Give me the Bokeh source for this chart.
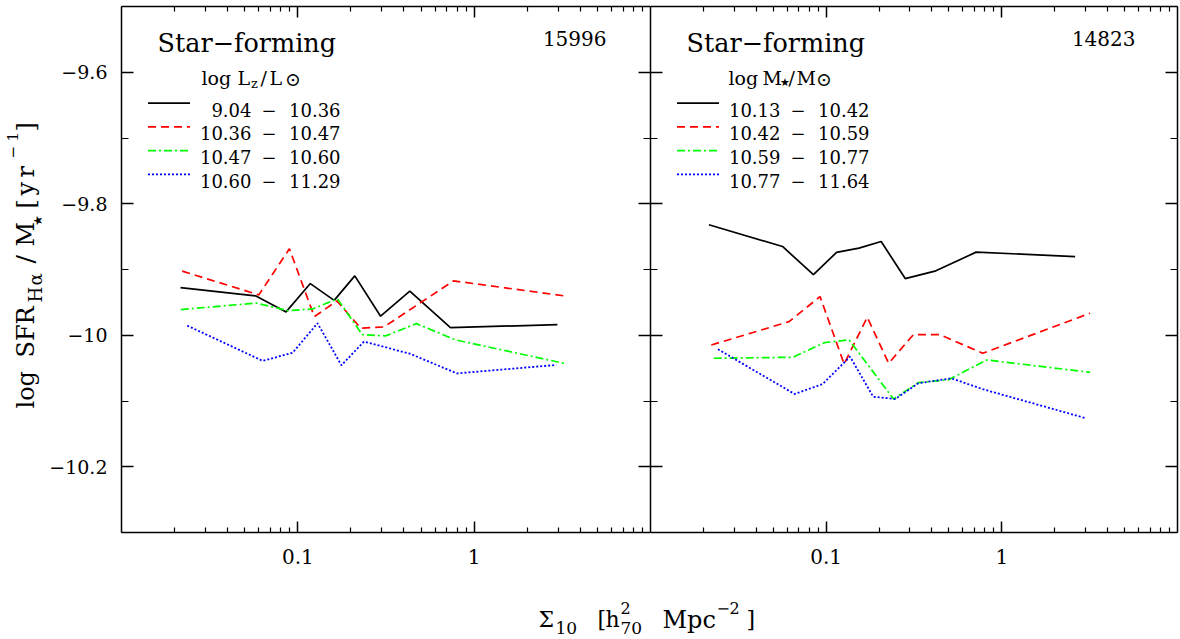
import math
from bokeh.plotting import figure
from bokeh.layouts import row, column
from bokeh.models import (Range1d, LogAxis, LinearAxis, FixedTicker, CustomJSTickFormatter,
                          Label, Arrow, LogScale)
from bokeh.embed import file_html
from bokeh.resources import INLINE

# ---------------- data ----------------
# Left panel: bins of luminosity log Lz/Lsun
L_black_x = [0.0216, 0.0575, 0.0858, 0.1177, 0.1607, 0.2104, 0.2947, 0.4315, 0.7337, 2.964]
L_black_y = [-9.9275, -9.940, -9.9645, -9.9214, -9.947, -9.9097, -9.971, -9.933, -9.9884, -9.9839]
L_red_x = [0.0221, 0.0601, 0.0896, 0.124, 0.1664, 0.2274, 0.3076, 0.764, 3.233]
L_red_y = [-9.9025, -9.9386, -9.8685, -9.9717, -9.9478, -9.9893, -9.9874, -9.9173, -9.9401]
L_green_x = [0.0217, 0.058, 0.0876, 0.1212, 0.1677, 0.232, 0.3146, 0.4708, 0.781, 3.233]
L_green_y = [-9.961, -9.951, -9.9625, -9.96, -9.9447, -9.999, -10.001, -9.9823, -10.007, -10.0427]
L_blue_x = [0.0236, 0.0633, 0.0935, 0.1293, 0.1767, 0.2372, 0.4315, 0.798, 2.925]
L_blue_y = [-9.9854, -10.039, -10.0265, -9.9817, -10.0457, -10.0097, -10.028, -10.058, -10.0452]

# Right panel: bins of stellar mass log M*/Msun
R_black_x = [0.0215, 0.0564, 0.0846, 0.1146, 0.1537, 0.2056, 0.2818, 0.4213, 0.7145, 2.613]
R_black_y = [-9.832, -9.865, -9.9077, -9.874, -9.8675, -9.8574, -9.9138, -9.902, -9.8736, -9.8803]
R_red_x = [0.0222, 0.0615, 0.0923, 0.1265, 0.1714, 0.2268, 0.3137, 0.4437, 0.7785, 3.179]
R_red_y = [-10.0148, -9.9793, -9.9412, -10.0437, -9.9726, -10.0427, -9.999, -9.999, -10.0274, -9.9665]
R_green_x = [0.0229, 0.0647, 0.0976, 0.135, 0.2419, 0.3347, 0.4942, 0.8201, 3.179]
R_green_y = [-10.035, -10.0335, -10.0113, -10.007, -10.097, -10.072, -10.068, -10.0376, -10.0564]
R_blue_x = [0.0242, 0.0661, 0.0955, 0.1368, 0.1852, 0.2474, 0.3347, 0.5163, 0.7785, 2.99]
R_blue_y = [-10.0213, -10.0894, -10.0742, -10.0326, -10.0935, -10.097, -10.073, -10.0655, -10.082, -10.126]

L_bins = [("9.04", "10.36"), ("10.36", "10.47"), ("10.47", "10.60"), ("10.60", "11.29")]
R_bins = [("10.13", "10.42"), ("10.42", "10.59"), ("10.59", "10.77"), ("10.77", "11.64")]
L_count = "15996"
R_count = "14823"

x_major = [0.1, 1]
x_minor = [k * 10 ** e for e in (-2, -1, 0) for k in range(2, 10)]
y_major = [-10.2, -10.0, -9.8, -9.6]
y_minor = [-10.3, -10.1, -9.9, -9.7, -9.5]

# ---------------- geometry (picture px) ----------------
TOTAL_H = 638
YW = 45                 # width of the y-label strip
FT, FB = 6, 532         # frame top / bottom
FH = FB - FT
FL1, FW1 = 121, 529     # left panel frame
FL2, FW2 = 650, 527     # right panel frame
PH = 576                # panel figure height
FONT = "DejaVu Serif"

styles = [
    dict(color="black", line_dash="solid", line_width=1.7),
    dict(color="#ff0000", line_dash="8 5", line_width=1.7),
    dict(color="#00ff00", line_dash="8 3 2 3", line_width=1.7),
    dict(color="#0000ff", line_dash="2 2", line_width=1.8),
]


def dx(px, fl, fw):
    return 10 ** (-2 + 3.0 * (px - fl) / fw)


def dy(py):
    return -10.3 + 0.8 * (FB - py) / FH


def make_fig(width, bl, br):
    p = figure(width=width, height=PH, x_axis_type=None, y_axis_type=None,
               x_range=Range1d(0.01, 10), y_range=Range1d(-10.3, -9.5),
               output_backend="svg", toolbar_location=None,
               min_border_left=bl, min_border_right=br, min_border_top=FT,
               min_border_bottom=PH - FB)
    p.x_scale = LogScale()
    p.outline_line_color = None
    p.background_fill_color = "white"
    p.border_fill_color = "white"
    return p


def text_fig(width, height, x0, x1, y0, y1):
    # data coordinates: x = picture x, y = picture bottom - picture y
    p = figure(width=width, height=height, x_axis_type=None, y_axis_type=None,
               x_range=Range1d(x0, x1), y_range=Range1d(0, y1 - y0),
               output_backend="svg", toolbar_location=None,
               min_border=0, min_border_left=0, min_border_right=0,
               min_border_top=0, min_border_bottom=0)
    p.outline_line_color = None
    p.background_fill_color = "white"
    p.border_fill_color = "white"
    p.grid.visible = False
    return p


def style_axis(ax, is_x, labels):
    ax.axis_line_color = "black"
    ax.axis_line_width = 1.5
    ax.major_tick_line_color = "black"
    ax.major_tick_line_width = 1.5
    ax.minor_tick_line_color = "black"
    ax.minor_tick_line_width = 1.2
    ax.major_tick_out = 0
    ax.minor_tick_out = 0
    ax.major_tick_in = 11 if is_x else 12
    ax.minor_tick_in = 5 if is_x else 7
    ax.major_label_text_font = FONT
    ax.major_label_text_color = "black"
    if labels:
        ax.major_label_text_font_size = "20px" if is_x else "19px"
        ax.major_label_standoff = 16 if is_x else 14
    else:
        ax.major_label_text_font_size = "0px"
        ax.major_label_standoff = 0
        ax.formatter = CustomJSTickFormatter(code="return '';")


def add_axes(p, left_labels):
    for side, lab_on in (("below", True), ("above", False)):
        ax = LogAxis(ticker=FixedTicker(ticks=x_major, minor_ticks=x_minor))
        if lab_on:
            ax.formatter = CustomJSTickFormatter(code="return tick.toString();")
        style_axis(ax, True, lab_on)
        p.add_layout(ax, side)
    for side, lab_on in (("left", left_labels), ("right", False)):
        ax = LinearAxis(ticker=FixedTicker(ticks=y_major, minor_ticks=y_minor))
        if lab_on:
            ax.formatter = CustomJSTickFormatter(
                code="var s = Math.abs(tick).toString(); return (tick < 0 ? '\u2212' : '') + s;")
        style_axis(ax, False, lab_on)
        p.add_layout(ax, side)


def lab(p, x, y, text, size, align="left", baseline="alphabetic", angle=0):
    p.add_layout(Label(x=x, y=y, text=text, text_font=FONT,
                       text_font_size=f"{size}px", text_align=align,
                       text_baseline=baseline, angle=angle, text_color="black"))


def put(p, fl, fw, text, px, py, size, align="left", baseline="alphabetic"):
    lab(p, dx(px, fl, fw), dy(py), text, size, align, baseline)


def draw_panel(p, fl, fw, series, bins, count, title_parts):
    for (xs, ys), st in zip(series, styles):
        p.line(xs, ys, line_color=st["color"], line_dash=st["line_dash"],
               line_width=st["line_width"])
    put(p, fl, fw, "Star\u2212forming", fl + 36, 42.5, 25.5)
    put(p, fl, fw, count, fl + 485, 37.7, 20, align="right")
    for t, ox, oy, sz, bl in title_parts:
        put(p, fl, fw, t, fl + ox, oy, sz, baseline=bl)
    row_y = [109, 132.7, 156.4, 180.1]
    for (a, b), st, by in zip(bins, styles, row_y):
        ly = by - 6.3
        p.add_layout(Arrow(end=None, x_start=dx(fl + 26.5, fl, fw), y_start=dy(ly),
                           x_end=dx(fl + 68.5, fl, fw), y_end=dy(ly),
                           line_color=st["color"], line_dash=st["line_dash"],
                           line_width=st["line_width"]))
        put(p, fl, fw, a, fl + 130, by, 18, align="right")
        put(p, fl, fw, "\u2212", fl + 147.5, by, 18, align="center")
        put(p, fl, fw, b, fl + 167.5, by, 18, align="left")


# ---------------- left panel ----------------
p1 = make_fig(FL2 - YW, FL1 - YW, 0)
add_axes(p1, True)
L_title = [("log", 80, 77.3, 19, "alphabetic"), ("L", 116, 77.3, 19, "alphabetic"),
           ("z", 129.5, 83.3, 13, "alphabetic"), ("/", 139, 77.3, 19, "alphabetic"),
           ("L", 148, 77.3, 19, "alphabetic"), ("\u2299", 163.5, 78, 19, "middle")]
draw_panel(p1, FL1, FW1,
           [(L_black_x, L_black_y), (L_red_x, L_red_y), (L_green_x, L_green_y), (L_blue_x, L_blue_y)],
           L_bins, L_count, L_title)

# ---------------- right panel ----------------
p2 = make_fig(FW2 + 2, 0, 2)
add_axes(p2, False)
R_title = [("log", 78, 77.3, 19, "alphabetic"), ("M", 112, 77.3, 19, "alphabetic"),
           ("\u2605", 129.5, 82, 11, "alphabetic"), ("/", 138, 77.3, 19, "alphabetic"),
           ("M", 146, 77.3, 19, "alphabetic"), ("\u2299", 165.5, 78, 19, "middle")]
draw_panel(p2, FL2, FW2,
           [(R_black_x, R_black_y), (R_red_x, R_red_y), (R_green_x, R_green_y), (R_blue_x, R_blue_y)],
           R_bins, R_count, R_title)

# ---------------- y-axis label strip (rotated pieces) ----------------
yfig = text_fig(YW, TOTAL_H, 0, YW, 0, TOTAL_H)
A = math.pi / 2
BX = 25          # main text anchor
SUB = 34.5       # subscript anchor
SUP = 11.5       # superscript anchor
for t, py, bx, sz in [("log", 408, BX, 24), ("SFR", 357, BX, 24),
                      ("H", 302, SUB, 18), ("\u03b1", 285, SUB, 18),
                      ("/", 263, BX, 25), ("M", 246, BX, 24), ("[", 208, BX, 24),
                      ("y", 195, BX, 24), ("r", 177, BX, 24),
                      ("\u2212", 158, SUP, 15), ("1", 141, SUP, 15),
                      ("]", 131, BX, 24)]:
    lab(yfig, bx, TOTAL_H - py, t, sz, angle=A)
lab(yfig, 37, TOTAL_H - 220, "\u2605", 12, align="center", angle=A)

# ---------------- x-axis label strip ----------------
xfig = text_fig(FL2 - YW + FW2 + 2, TOTAL_H - PH, YW, FL2 + FW2 + 2, PH, TOTAL_H)
for t, px, py, sz in [("\u03a3", 538, 619, 22), ("10", 555, 627, 17), ("[", 597, 619, 22),
                      ("h", 605, 619, 22), ("2", 620, 607, 16), ("70", 620, 627, 17),
                      ("Mpc", 662, 619, 24), ("\u2212", 716, 607, 16), ("2", 729, 607, 16),
                      ("]", 746, 619, 22)]:
    lab(xfig, px, TOTAL_H - py, t, sz)

layout = row(yfig, column(row(p1, p2, spacing=0), xfig, spacing=0), spacing=0)
open("out.html", "w").write(file_html(layout, INLINE))
